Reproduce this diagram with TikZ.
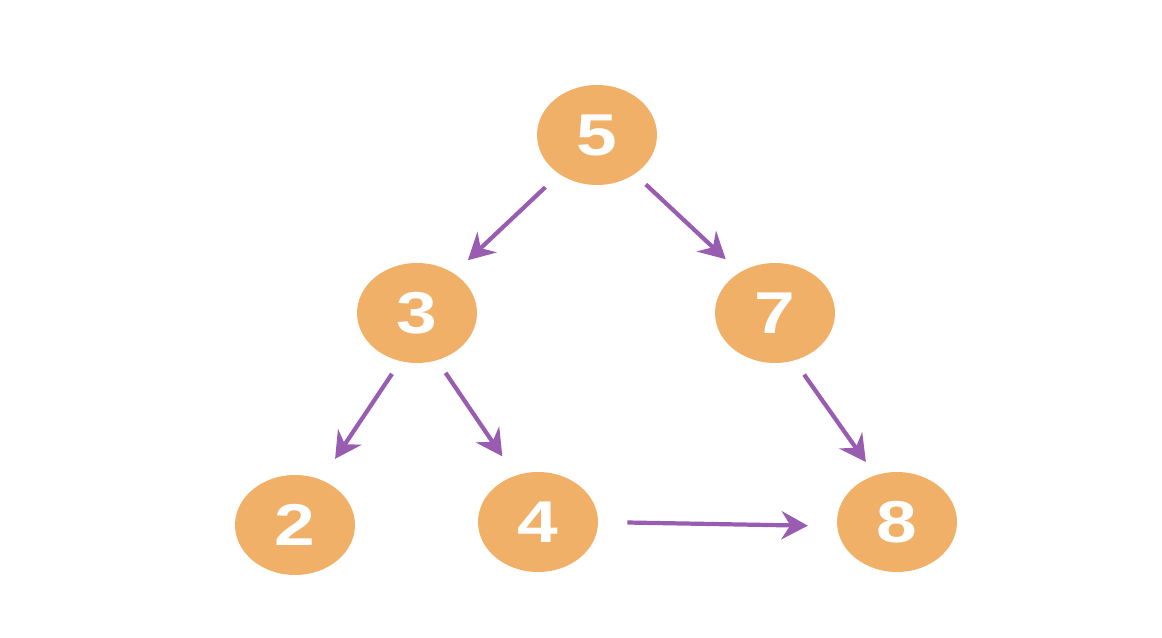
\documentclass[tikz,border=0pt]{standalone}
\usepackage{fontspec}
\setmainfont{Liberation Sans}
\usetikzlibrary{arrows.meta,shapes.geometric}
\definecolor{nodeorange}{RGB}{240,176,104}
\definecolor{arrowpurple}{RGB}{152,92,176}
\newcommand\widedigit[1]{\scalebox{1.3}[1.05]{#1}}
\tikzset{
  treenode/.style={ellipse, fill=nodeorange, draw=none, minimum width=2.4cm, minimum height=2.0cm, inner sep=0pt, text=white, font=\fontsize{32}{32}\selectfont\bfseries},
  link/.style={draw=arrowpurple, line width=2.4pt, -{Stealth[length=15pt,width=16pt,inset=5pt]}}
}
\begin{document}
\begin{tikzpicture}[x=0.02cm,y=-0.02cm]
\useasboundingbox (0,0) rectangle (1162,638);
\node[treenode] (n5) at (597,135) {\widedigit{5}};
\node[treenode] (n3) at (417,313) {\widedigit{3}};
\node[treenode] (n7) at (775,313) {\widedigit{7}};
\node[treenode] (n2) at (295,525) {\widedigit{2}};
\node[treenode] (n4) at (538,522) {\widedigit{4}};
\node[treenode] (n8) at (897,522) {\widedigit{8}};
\draw[link, shorten <=0.38cm, shorten >=0.38cm] (n5.226) -- (n3.47);
\draw[link, shorten <=0.30cm, shorten >=0.38cm] (n5.314) -- (n7.131);
\draw[link, shorten <=0.30cm, shorten >=0.50cm] (n3.251) -- (n2.60);
\draw[link, shorten <=0.30cm, shorten >=0.46cm] (n3.293) -- (n4.116);
\draw[link, shorten <=0.34cm, shorten >=0.32cm] (n7.292) -- (n8.115);
\draw[link, shorten <=0.58cm, shorten >=0.58cm] (n4.0) -- (n8.184);
\end{tikzpicture}
\end{document}
